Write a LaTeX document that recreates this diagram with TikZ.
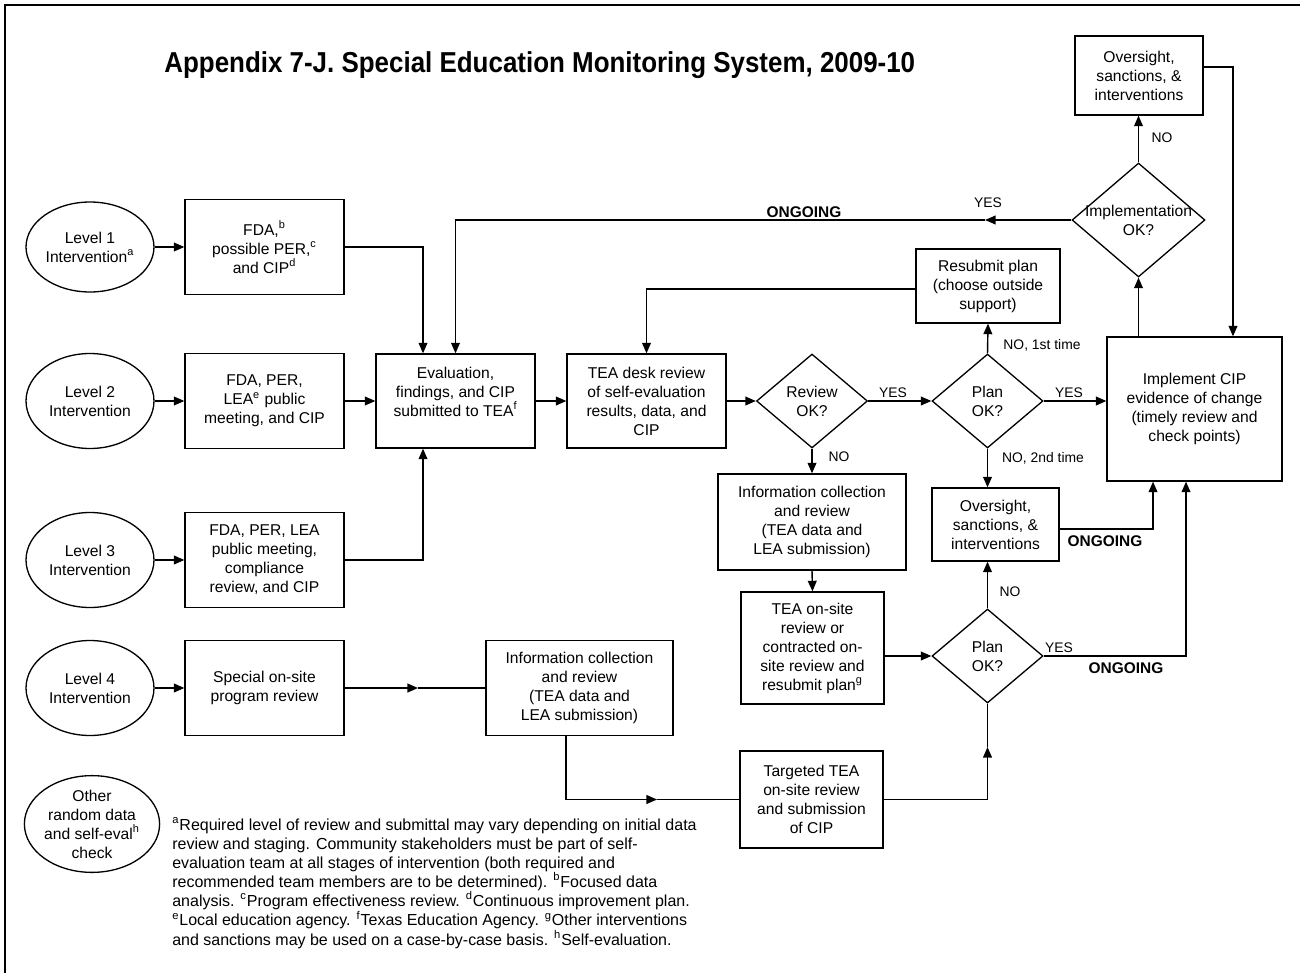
\documentclass[tikz,border=0pt]{standalone}
\usepackage{fontspec}
\setmainfont{Liberation Sans}
\newfontfamily\titlefont[FakeStretch=0.9]{Liberation Sans}
\usetikzlibrary{shapes.geometric}
\usetikzlibrary{arrows.meta}

\begin{document}
\begin{tikzpicture}[x=0.02cm, y=-0.02cm,
  font=\fontsize{8.9}{10.8}\selectfont,
  box/.style={draw, line width=0.75pt, align=center, inner sep=0pt},
  oval/.style={draw, ellipse, line width=0.75pt, align=center, inner sep=0pt, minimum width=2.56cm, minimum height=1.9cm},
  dia/.style={draw, diamond, line width=0.75pt, align=center, inner sep=0pt, minimum width=2.22cm, minimum height=1.88cm},
  arr/.style={line width=0.8pt, -{Triangle[length=6pt,width=5pt]}},
  link/.style={line width=0.8pt},
  lbl/.style={font=\fontsize{7.9}{9.5}\selectfont, inner sep=0pt},
  ong/.style={font=\fontsize{8.8}{10}\selectfont\bfseries, inner sep=0pt}]
\useasboundingbox (0,0) rectangle (1300,973);
\draw[line width=1.1pt] (5,973) -- (5,5) -- (1300,5);

\node[anchor=base west, inner sep=0pt, font=\titlefont\fontsize{16.4}{19}\selectfont\bfseries] (title) at (164,73) {Appendix 7-J. Special Education Monitoring System, 2009-10};

\node[oval, minimum height=1.8cm] (lv1) at (90,247) {Level 1\\Intervention\textsuperscript{a}};
\node[oval] (lv2) at (90,401) {Level 2\\Intervention};
\node[oval] (lv3) at (90,560) {Level 3\\Intervention};
\node[oval] (lv4) at (90,688) {Level 4\\Intervention};
\node[oval] (other) at (92,824) {Other\\random data\\and self-eval\textsuperscript{h}\\check};

\node[box, minimum width=3.18cm, minimum height=1.9cm] (fda1) at (264.5,247) {FDA,\textsuperscript{b}\\possible PER,\textsuperscript{c}\\and CIP\textsuperscript{d}};
\node[box, minimum width=3.18cm, minimum height=1.9cm] (fda2) at (264.5,401) {FDA, PER,\\LEA\textsuperscript{e} public\\meeting, and CIP};
\node[box, minimum width=3.18cm, minimum height=1.9cm] (fda3) at (264.5,560) {FDA, PER, LEA\\public meeting,\\compliance\\review, and CIP};
\node[box, minimum width=3.18cm, minimum height=1.9cm] (spec) at (264.5,688) {Special on-site\\program review};
\node[box, minimum width=3.18cm, minimum height=1.88cm] (eval) at (455.5,401) {Evaluation,\\findings, and CIP\\submitted to TEA\textsuperscript{f}\\\mbox{}};
\node[box, minimum width=3.18cm, minimum height=1.88cm] (tea) at (646.5,401) {TEA desk review\\of self-evaluation\\results, data, and\\CIP};
\node[box, minimum width=3.74cm, minimum height=1.9cm] (info2) at (579.5,688) {Information collection\\and review\\(TEA data and\\LEA submission)};

\node[dia] (rev) at (812,401) {Review\\OK?};
\node[dia] (plan1) at (987.5,401) {Plan\\OK?};
\node[dia] (plan2) at (987.5,656) {Plan\\OK?};
\node[dia, shape aspect=1.17, inner sep=-1.7pt, minimum width=2.66cm, minimum height=2.28cm] (implok) at (1138.5,220) {Implementation\\OK?};

\node[box, minimum width=3.76cm, minimum height=1.92cm] (info1) at (812,522) {Information collection\\and review\\(TEA data and\\LEA submission)};
\node[box, minimum width=2.86cm, minimum height=2.24cm] (onsite) at (812.5,648) {TEA on-site\\review or\\contracted on-\\site review and\\resubmit plan\textsuperscript{g}};
\node[box, minimum width=2.86cm, minimum height=1.94cm] (target) at (811.5,799.5) {Targeted TEA\\on-site review\\and submission\\of CIP};
\node[box, minimum width=2.88cm, minimum height=1.48cm] (resub) at (988,286) {Resubmit plan\\(choose outside\\support)};
\node[box, minimum width=2.54cm, minimum height=1.46cm] (over2) at (995.5,524.5) {Oversight,\\sanctions, \&\\interventions};
\node[box, minimum width=2.56cm, minimum height=1.58cm] (over1) at (1139,75.5) {Oversight,\\sanctions, \&\\interventions};
\node[box, minimum width=3.5cm, minimum height=2.88cm] (impl) at (1194.5,409) {Implement CIP\\evidence of change\\(timely review and\\check points)};

\node[anchor=north west, align=left, inner sep=0pt, font=\fontsize{9.1}{10.9}\selectfont] (notes) at (172,817) {\textsuperscript{a}Required level of review and submittal may vary depending on initial data\\
review and staging. Community stakeholders must be part of self-\\
evaluation team at all stages of intervention (both required and\\
recommended team members are to be determined). \textsuperscript{b}Focused data\\
analysis. \textsuperscript{c}Program effectiveness review. \textsuperscript{d}Continuous improvement plan.\\
\textsuperscript{e}Local education agency. \textsuperscript{f}Texas Education Agency. \textsuperscript{g}Other interventions\\
and sanctions may be used on a case-by-case basis. \textsuperscript{h}Self-evaluation.};

\coordinate (m1) at (985,220);
\coordinate (m2) at (418,688);
\coordinate (m3) at (657,799.5);
\coordinate (m4) at (987.5,747);

\draw[arr] (lv1.east) -- (fda1.west);
\draw[arr] (fda1.east) -| ([xshift=-0.65cm]eval.north);
\draw[arr] (lv2.east) -- (fda2.west);
\draw[arr] (fda2.east) -- (eval.west);
\draw[arr] (eval.east) -- (tea.west);
\draw[arr] (tea.east) -- (rev.west);
\draw[arr] (rev.east) -- (plan1.west);
\draw[arr] (plan1.east) -- (plan1.east -| impl.west);
\draw[arr] (rev.south) -- (info1.north);
\draw[arr] (info1.south) -- (onsite.north);
\draw[arr] (onsite.east |- plan2.west) -- (plan2.west);
\draw[arr] (plan2.north) -- (plan2.north |- over2.south);
\draw[arr] (plan1.south) -- (plan1.south |- over2.north);
\draw[arr] (plan1.north) -- (resub.south);
\draw[arr] ([yshift=-0.06cm]resub.west) -| (tea.north);
\draw[arr] ([yshift=-0.09cm]over2.east) -| ([xshift=-0.83cm]impl.south);
\draw[arr] (plan2.east) -| ([xshift=-0.17cm]impl.south);
\draw[arr] (implok.south |- impl.north) -- (implok.south);
\draw[arr] (implok.north) -- (implok.north |- over1.south);
\draw[arr] ([yshift=0.17cm]over1.east) -| ([xshift=0.77cm]impl.north);
\draw[arr] (implok.west) -- (m1);
\draw[arr] (m1) -| (eval.north);
\draw[arr] (lv3.east) -- (fda3.west);
\draw[arr] (fda3.east) -| ([xshift=-0.65cm]eval.south);
\draw[arr] (lv4.east) -- (spec.west);
\draw[arr] (spec.east) -- (m2);
\draw[link] (m2) -- (info2.west);
\draw[arr] ([xshift=-0.27cm]info2.south) |- (m3);
\draw[link] (m3) -- (target.west);
\draw[arr] (target.east) -| (m4);
\draw[link] (m4) -- (plan2.south);

\node[lbl] (yes1) at (988,203) {YES};
\node[ong] (ong1) at (804,212) {ONGOING};
\node[lbl] (no1) at (1162,138) {NO};
\node[lbl] (no2) at (1042,345) {NO, 1st time};
\node[lbl] (yes2) at (893,393) {YES};
\node[lbl] (yes3) at (1069,393) {YES};
\node[lbl] (no3) at (839,457) {NO};
\node[lbl] (no4) at (1043,458) {NO, 2nd time};
\node[ong] (ong2) at (1105,541) {ONGOING};
\node[lbl] (no5) at (1010,592) {NO};
\node[lbl] (yes4) at (1059,648) {YES};
\node[ong] (ong3) at (1126,668) {ONGOING};
\end{tikzpicture}
\end{document}
